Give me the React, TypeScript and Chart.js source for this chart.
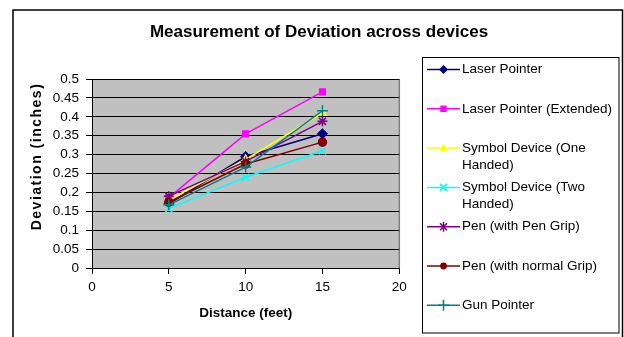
import React, { useEffect, useRef } from "react";
import { Chart, registerables } from "chart.js";

Chart.register(...registerables);

const TITLE = "Measurement of Deviation across devices";
const X_TITLE = "Distance (feet)";
const Y_TITLE = "Deviation (inches)";
const FONT = "'Liberation Sans', Arial, sans-serif";

const distances = [5, 10, 15];

const seriesNames = [
  "Laser Pointer",
  "Laser Pointer (Extended)",
  "Symbol Device (One Handed)",
  "Symbol Device (Two Handed)",
  "Pen (with Pen Grip)",
  "Pen (with normal Grip)",
  "Gun Pointer",
];

const laserPointer = [0.17, 0.295, 0.355];
const laserPointerExtended = [0.186, 0.355, 0.466];
const symbolOneHanded = [0.18, 0.287, 0.41];
const symbolTwoHanded = [0.157, 0.24, 0.31];
const penWithPenGrip = [0.19, 0.282, 0.388];
const penWithNormalGrip = [0.174, 0.275, 0.333];
const gunPointer = [0.167, 0.267, 0.416];

const seriesValues = [
  laserPointer,
  laserPointerExtended,
  symbolOneHanded,
  symbolTwoHanded,
  penWithPenGrip,
  penWithNormalGrip,
  gunPointer,
];

const seriesColors = ["#000080", "#FF00FF", "#FFFF00", "#00FFFF", "#800080", "#800000", "#008080"];
const seriesMarkers = ["rectRot", "rect", "triangle", "crossRot", "star", "circle", "cross"];
const markerRadius = [4.5, 4, 4.5, 5, 5, 4, 5.5];

const xTicks = [0, 5, 10, 15, 20];
const yMin = 0;
const yMax = 0.5;
const yStep = 0.05;

function wrapText(ctx: CanvasRenderingContext2D, text: string, maxWidth: number): string[] {
  const words = text.split(" ");
  const lines: string[] = [];
  let cur = "";
  for (const w of words) {
    const t = cur ? cur + " " + w : w;
    if (ctx.measureText(t).width > maxWidth && cur) {
      lines.push(cur);
      cur = w;
    } else cur = t;
  }
  if (cur) lines.push(cur);
  return lines;
}

function drawMarker(ctx: CanvasRenderingContext2D, style: string, x: number, y: number, r: number, color: string) {
  ctx.save();
  ctx.fillStyle = color;
  ctx.strokeStyle = color;
  ctx.lineWidth = 1.5;
  ctx.beginPath();
  switch (style) {
    case "rectRot":
      ctx.moveTo(x, y - r); ctx.lineTo(x + r, y); ctx.lineTo(x, y + r); ctx.lineTo(x - r, y); ctx.closePath(); ctx.fill();
      break;
    case "rect":
      ctx.rect(x - r * 0.8, y - r * 0.8, r * 1.6, r * 1.6); ctx.fill();
      break;
    case "triangle":
      ctx.moveTo(x, y - r); ctx.lineTo(x + r * 0.9, y + r * 0.6); ctx.lineTo(x - r * 0.9, y + r * 0.6); ctx.closePath(); ctx.fill();
      break;
    case "crossRot":
      ctx.moveTo(x - r * 0.7, y - r * 0.7); ctx.lineTo(x + r * 0.7, y + r * 0.7);
      ctx.moveTo(x + r * 0.7, y - r * 0.7); ctx.lineTo(x - r * 0.7, y + r * 0.7); ctx.stroke();
      break;
    case "star":
      ctx.moveTo(x - r * 0.7, y - r * 0.7); ctx.lineTo(x + r * 0.7, y + r * 0.7);
      ctx.moveTo(x + r * 0.7, y - r * 0.7); ctx.lineTo(x - r * 0.7, y + r * 0.7);
      ctx.moveTo(x, y - r); ctx.lineTo(x, y + r); ctx.stroke();
      break;
    case "circle":
      ctx.arc(x, y, r * 0.85, 0, Math.PI * 2); ctx.fill();
      break;
    case "cross":
      ctx.moveTo(x - r, y); ctx.lineTo(x + r, y); ctx.moveTo(x, y - r); ctx.lineTo(x, y + r); ctx.stroke();
      break;
  }
  ctx.restore();
}

const framePlugin = {
  id: "frame",
  beforeDraw(chart: any) {
    const { ctx, chartArea: a } = chart;
    ctx.save();
    ctx.fillStyle = "#ffffff";
    ctx.fillRect(0, 0, chart.width, chart.height);
    ctx.fillStyle = "#C0C0C0";
    ctx.fillRect(a.left, a.top, a.right - a.left, a.bottom - a.top);
    ctx.strokeStyle = "#808080";
    ctx.lineWidth = 1.5;
    ctx.beginPath();
    ctx.moveTo(a.right, a.top);
    ctx.lineTo(a.right, a.bottom);
    ctx.stroke();
    ctx.restore();
  },
  afterDraw(chart: any) {
    const { ctx } = chart;
    ctx.save();
    // outer frame
    ctx.strokeStyle = "#000";
    ctx.lineWidth = 1.5;
    ctx.strokeRect(13, 10, 609.5, 340);
    // title
    ctx.fillStyle = "#000";
    ctx.font = `bold 17px ${FONT}`;
    ctx.textAlign = "center";
    ctx.textBaseline = "middle";
    ctx.fillText(TITLE, 319, 32);
    // y title
    ctx.save();
    ctx.translate(37, 156.5);
    ctx.rotate(-Math.PI / 2);
    ctx.font = `bold 14px ${FONT}`;
    (ctx as any).letterSpacing = "1.5px";
    ctx.fillText(Y_TITLE, 0, 0);
    ctx.restore();
    // legend
    const bx = 422.5, by = 57.5, bw = 196.5, bh = 275.5;
    ctx.lineWidth = 1;
    ctx.strokeStyle = "#000";
    ctx.strokeRect(bx, by, bw, bh);
    ctx.font = `13.5px ${FONT}`;
    ctx.textAlign = "left";
    ctx.textBaseline = "middle";
    const startY = 69.5;
    const spacing = 39.3;
    seriesNames.forEach((name, i) => {
      const y = startY + i * spacing;
      const color = seriesColors[i];
      ctx.strokeStyle = color;
      ctx.lineWidth = 1.5;
      ctx.beginPath();
      ctx.moveTo(427, y);
      ctx.lineTo(460, y);
      ctx.stroke();
      drawMarker(ctx, seriesMarkers[i], 443.5, y, markerRadius[i], color);
      ctx.fillStyle = "#000";
      const lines = wrapText(ctx, name, 158);
      lines.forEach((ln, k) => ctx.fillText(ln, 462, y + k * 17));
    });
    ctx.restore();
  },
};

export default function App() {
  const ref = useRef<HTMLCanvasElement | null>(null);
  useEffect(() => {
    if (!ref.current) return;
    const n = seriesNames.length;
    const chart = new Chart(ref.current, {
      type: "line",
      data: {
        datasets: seriesNames.map((name, i) => ({
          label: name,
          data: distances.map((d, k) => ({ x: d, y: seriesValues[i][k] })),
          borderColor: seriesColors[i],
          backgroundColor: seriesColors[i],
          pointBackgroundColor: seriesColors[i],
          pointBorderColor: seriesColors[i],
          pointStyle: seriesMarkers[i] as any,
          pointRadius: markerRadius[i],
          pointBorderWidth: 1.5,
          borderWidth: 1.5,
          fill: false,
          tension: 0,
          order: n - i,
        })),
      },
      plugins: [framePlugin],
      options: {
        animation: false,
        responsive: false,
        devicePixelRatio: 1,
        layout: { padding: { top: 79, right: 224.7, bottom: 0, left: 0 } },
        plugins: {
          legend: { display: false },
          title: { display: false },
          tooltip: { enabled: false },
        },
        scales: {
          x: {
            type: "linear",
            min: xTicks[0],
            max: xTicks[xTicks.length - 1],
            afterBuildTicks: (s: any) => {
              s.ticks = xTicks.map((v) => ({ value: v }));
            },
            afterFit: (s: any) => {
              s.height = 69;
            },
            grid: { drawOnChartArea: false, drawTicks: true, tickLength: 6, color: "#000", lineWidth: 1 },
            border: { color: "#000", width: 1 },
            ticks: { color: "#000", font: { family: FONT, size: 13.5 }, padding: 5, maxRotation: 0, autoSkip: false },
            title: {
              display: true,
              text: X_TITLE,
              color: "#000",
              font: { family: FONT, size: 13.5, weight: "bold" },
              padding: { top: 0, bottom: 16 },
            },
          },
          y: {
            type: "linear",
            min: yMin,
            max: yMax,
            ticks: {
              stepSize: yStep,
              autoSkip: false,
              color: "#000",
              font: { family: FONT, size: 13.5 },
              padding: 7,
              callback: (v: any) => String(Math.round(Number(v) * 100) / 100),
            },
            afterFit: (s: any) => {
              s.width = 92;
            },
            grid: { drawOnChartArea: true, drawTicks: true, tickLength: 6, color: "#000", lineWidth: 1 },
            border: { color: "#000", width: 1 },
          },
        },
      },
    });
    return () => chart.destroy();
  }, []);
  return (
    <div style={{ position: "fixed", left: 0, top: 0, width: 624, height: 337, background: "#fff" }}>
      <canvas ref={ref} width={624} height={337} style={{ display: "block", width: 624, height: 337 }} />
    </div>
  );
}
